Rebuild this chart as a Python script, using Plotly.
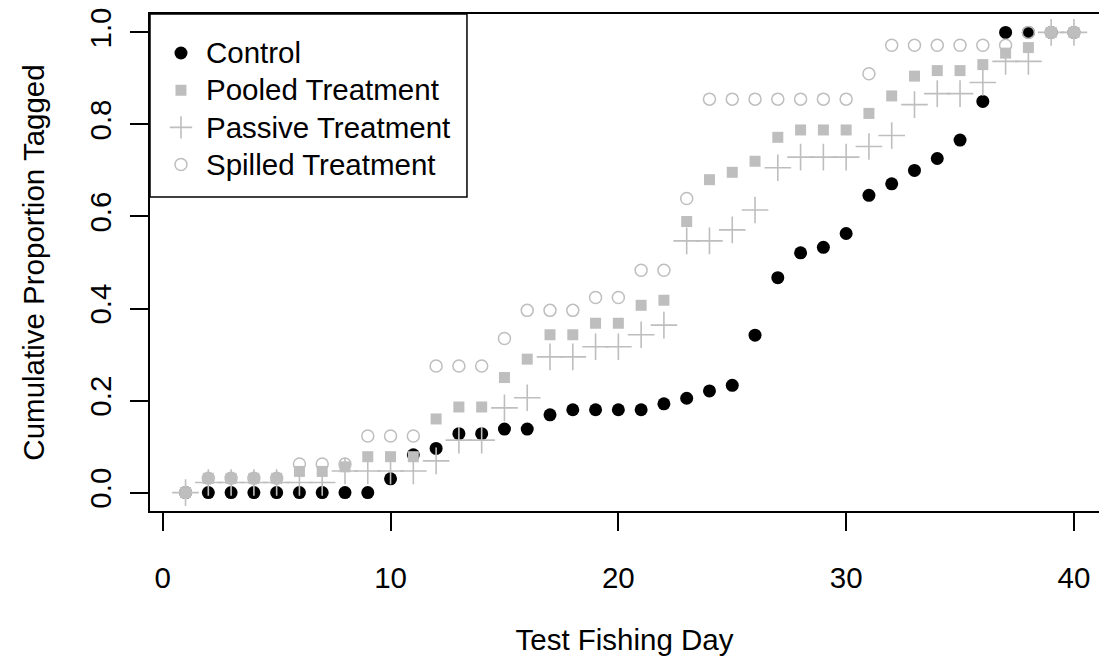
import plotly.graph_objects as go

days = list(range(1, 41))

control = [0, 0, 0, 0, 0, 0, 0, 0, 0, 0.030,
           0.082, 0.096, 0.128, 0.128, 0.138, 0.138, 0.169, 0.180, 0.180, 0.180,
           0.180, 0.193, 0.205, 0.221, 0.233, 0.342, 0.467, 0.521, 0.533, 0.563,
           0.646, 0.671, 0.700, 0.726, 0.766, 0.850, 1.0, 1.0, 1.0, 1.0]

pooled = [0, 0.031, 0.031, 0.031, 0.031, 0.046, 0.046, 0.056, 0.078, 0.078,
          0.078, 0.160, 0.186, 0.186, 0.250, 0.290, 0.343, 0.343, 0.368, 0.368,
          0.407, 0.418, 0.589, 0.680, 0.696, 0.720, 0.772, 0.788, 0.788, 0.788,
          0.824, 0.862, 0.905, 0.917, 0.917, 0.930, 0.955, 0.967, 1.0, 1.0]

passive = [0, 0.022, 0.022, 0.022, 0.022, 0.022, 0.022, 0.047, 0.047, 0.047,
           0.047, 0.069, 0.114, 0.114, 0.184, 0.206, 0.295, 0.295, 0.317, 0.317,
           0.343, 0.364, 0.547, 0.547, 0.571, 0.614, 0.706, 0.729, 0.729, 0.729,
           0.752, 0.776, 0.843, 0.867, 0.867, 0.891, 0.937, 0.937, 1.0, 1.0]

spilled = [0, 0.031, 0.031, 0.031, 0.031, 0.062, 0.062, 0.062, 0.123, 0.123,
           0.123, 0.275, 0.275, 0.275, 0.335, 0.396, 0.396, 0.396, 0.424, 0.424,
           0.483, 0.483, 0.639, 0.855, 0.855, 0.855, 0.855, 0.855, 0.855, 0.855,
           0.910, 0.972, 0.972, 0.972, 0.972, 0.972, 0.972, 1.0, 1.0, 1.0]

series_names = ["Control", "Pooled Treatment", "Passive Treatment", "Spilled Treatment"]

x_ticks = [0, 10, 20, 30, 40]
y_ticks = [0.0, 0.2, 0.4, 0.6, 0.8, 1.0]
y_ticktext = ["0.0", "0.2", "0.4", "0.6", "0.8", "1.0"]

GRAY = "#BEBEBE"
FONT = "Liberation Sans, Arial, sans-serif"
FS = 29.5


def legend_label(text):
    return "<span style='font-size:%spx'>%s</span>" % (FS, text)


fig = go.Figure()
fig.add_trace(go.Scatter(x=days, y=control, mode="markers", name=legend_label(series_names[0]),
                         marker=dict(symbol="circle", size=13, color="black")))
fig.add_trace(go.Scatter(x=days, y=pooled, mode="markers", name=legend_label(series_names[1]),
                         marker=dict(symbol="square", size=11, color=GRAY)))
fig.add_trace(go.Scatter(x=days, y=passive, mode="markers", name=legend_label(series_names[2]),
                         marker=dict(symbol="cross-thin", size=19, color=GRAY,
                                     line=dict(color=GRAY, width=1.6))))
fig.add_trace(go.Scatter(x=days, y=spilled, mode="markers", name=legend_label(series_names[3]),
                         marker=dict(symbol="circle-open", size=12, color=GRAY,
                                     line=dict(color=GRAY, width=1.5))))

axis_common = dict(showgrid=False, zeroline=False, showline=True, linecolor="black",
                   linewidth=1.5, ticks="outside", ticklen=18, tickwidth=1.5,
                   tickcolor="black", automargin=False,
                   tickfont=dict(family=FONT, size=FS, color="black"))

fig.update_layout(
    width=1099, height=660,
    margin=dict(l=150, r=0, t=14, b=149, pad=0),
    plot_bgcolor="white", paper_bgcolor="white",
    font=dict(family=FONT, size=FS, color="black"),
    xaxis=dict(range=[-0.56, 41.1], tickvals=x_ticks, mirror=True,
               ticklabelstandoff=22,
               title=dict(text="Test Fishing Day", standoff=36,
                          font=dict(family=FONT, size=FS)),
               **axis_common),
    yaxis=dict(range=[-0.04, 1.04], tickvals=y_ticks, ticktext=y_ticktext,
               tickangle=-90, ticklabelstandoff=7,
               title=dict(text="Cumulative Proportion Tagged", standoff=31,
                          font=dict(family=FONT, size=FS)),
               **axis_common),
    showlegend=True,
    legend=dict(x=0.0063, y=0.969, xanchor="left", yanchor="top",
                bgcolor="rgba(0,0,0,0)", borderwidth=0, itemwidth=40,
                font=dict(family=FONT, size=26.3, color="black"),
                tracegroupgap=0),
    shapes=[dict(type="rect", xref="paper", yref="paper", x0=0, x1=0.334,
                 y0=0.632, y1=1, line=dict(color="black", width=1.5),
                 fillcolor="white", layer="above")],
)

fig.write_html(
    "out.html",
    config={"displayModeBar": False},
    post_script="document.body.style.margin='0';document.body.style.overflow='hidden';",
)
